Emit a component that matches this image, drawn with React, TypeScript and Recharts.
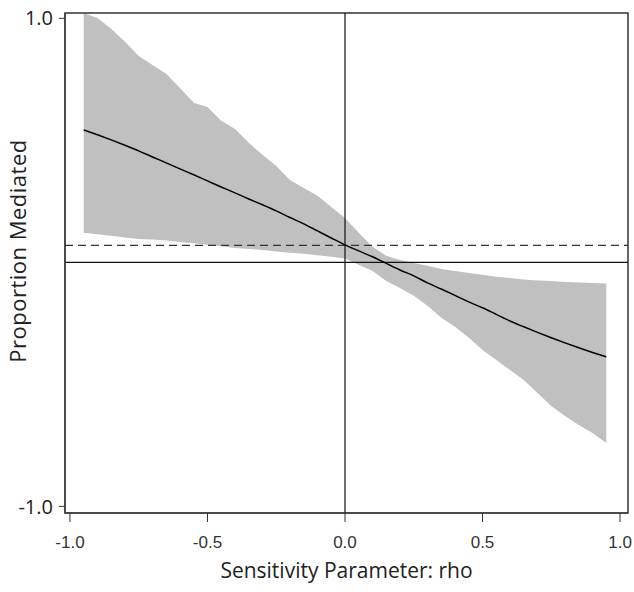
import { Area, ComposedChart, Line, ReferenceArea, ReferenceLine, XAxis, YAxis } from 'recharts'

// sensitivity parameter values along the x axis
const RHO = [
  -0.95, -0.9, -0.85, -0.8, -0.75, -0.7, -0.65, -0.6, -0.55, -0.5,
  -0.45, -0.4, -0.35, -0.3, -0.25, -0.2, -0.15, -0.1, -0.05, 0,
  0.05, 0.1, 0.15, 0.2, 0.25, 0.3, 0.35, 0.4, 0.45, 0.5,
  0.55, 0.6, 0.65, 0.7, 0.75, 0.8, 0.85, 0.9, 0.95,
]

const ESTIMATE = [
  0.543, 0.523, 0.502, 0.48, 0.457, 0.432, 0.408, 0.383, 0.359, 0.334,
  0.309, 0.285, 0.26, 0.236, 0.211, 0.184, 0.158, 0.129, 0.1, 0.072,
  0.047, 0.023, -0.004, -0.031, -0.055, -0.084, -0.109, -0.135, -0.162, -0.186,
  -0.213, -0.24, -0.264, -0.287, -0.309, -0.33, -0.35, -0.369, -0.387,
]

const UPPER = [
  1.022, 1.002, 0.957, 0.904, 0.846, 0.809, 0.773, 0.715, 0.654, 0.637,
  0.58, 0.547, 0.49, 0.441, 0.395, 0.338, 0.305, 0.273, 0.227, 0.182,
  0.121, 0.064, 0.027, 0.01, -0.002, -0.014, -0.027, -0.035, -0.043, -0.051,
  -0.059, -0.064, -0.07, -0.074, -0.076, -0.08, -0.082, -0.084, -0.086,
]

const LOWER = [
  0.121, 0.115, 0.109, 0.102, 0.096, 0.094, 0.09, 0.084, 0.078, 0.072,
  0.066, 0.059, 0.055, 0.051, 0.045, 0.039, 0.035, 0.029, 0.023, 0.016,
  -0.01, -0.035, -0.076, -0.105, -0.137, -0.178, -0.227, -0.264, -0.309, -0.359,
  -0.4, -0.441, -0.482, -0.535, -0.588, -0.629, -0.666, -0.699, -0.74,
]

const X_TICKS = [-1, -0.5, 0, 0.5, 1]
const Y_TICKS = [-1, 1]
const NULL_LINE = 0.07

const X_DOMAIN: [number, number] = [-1.018, 1.029]
const Y_DOMAIN: [number, number] = [-1.027, 1.022]

const rows = RHO.map((rho, i) => ({
  rho,
  estimate: ESTIMATE[i],
  band: [LOWER[i], UPPER[i]],
}))

const AXIS = '#333'
const TITLE_FONT = 'Open Sans, sans-serif'

export default function App() {
  return (
    <div style={{ position: 'absolute', left: 0, top: 0, background: '#fff' }}>
      <ComposedChart width={634} height={592} data={rows} margin={{ top: 13, right: 6, bottom: 0, left: 0 }}>
        <XAxis
          type="number"
          dataKey="rho"
          domain={X_DOMAIN}
          ticks={X_TICKS}
          allowDataOverflow
          tickFormatter={(v) => Number(v).toFixed(1)}
          height={79}
          tickSize={9}
          tickMargin={14}
          stroke={AXIS}
          tick={{ fill: '#333', fontSize: 17, fontFamily: 'Liberation Sans, Arial, sans-serif' }}
          label={{
            value: 'Sensitivity Parameter: rho',
            position: 'insideBottom',
            offset: 14,
            fill: '#222',
            fontSize: 21,
            fontFamily: TITLE_FONT,
          }}
        />
        <YAxis
          type="number"
          domain={Y_DOMAIN}
          ticks={Y_TICKS}
          allowDataOverflow
          tickFormatter={(v) => Number(v).toFixed(1)}
          width={65}
          tickSize={6}
          tickMargin={6}
          stroke={AXIS}
          tick={{ fill: '#222', fontSize: 20, fontFamily: TITLE_FONT }}
          label={{
            value: 'Proportion Mediated',
            angle: -90,
            position: 'insideLeft',
            offset: 5,
            dx: 13,
            dy: -12,
            fill: '#222',
            fontSize: 22,
            letterSpacing: 0.5,
            fontFamily: TITLE_FONT,
            style: { textAnchor: 'middle' },
          }}
        />
        <Area
          type="linear"
          dataKey="band"
          stroke="none"
          fill="#c0c0c0"
          fillOpacity={1}
          isAnimationActive={false}
        />
        <ReferenceLine x={0} stroke="#111" strokeWidth={1.2} />
        <ReferenceLine y={0} stroke="#111" strokeWidth={1.2} />
        <ReferenceLine y={NULL_LINE} stroke="#333" strokeWidth={1.2} strokeDasharray="8 5" />
        <Line
          type="monotone"
          dataKey="estimate"
          stroke="#000"
          strokeWidth={1.5}
          dot={false}
          isAnimationActive={false}
        />
        <ReferenceArea
          x1={X_DOMAIN[0]}
          x2={X_DOMAIN[1]}
          y1={Y_DOMAIN[0]}
          y2={Y_DOMAIN[1]}
          fill="none"
          stroke={AXIS}
          strokeWidth={1.5}
        />
      </ComposedChart>
    </div>
  )
}
